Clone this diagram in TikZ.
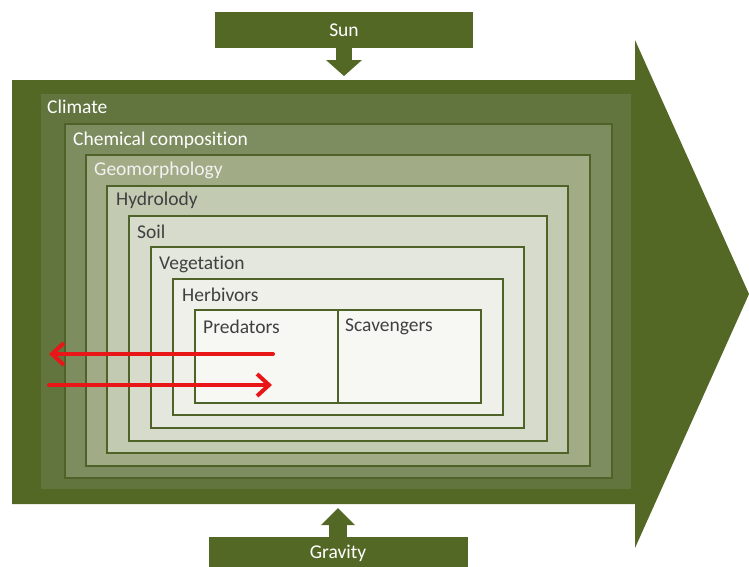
\documentclass[tikz,border=0pt]{standalone}
\usepackage{fontspec}
\setmainfont{Carlito}[Ligatures=NoCommon]
\usepackage{tikz}
\usetikzlibrary{arrows.meta}

\definecolor{flowgreen}{RGB}{84,104,38}
\definecolor{edgegreen}{RGB}{79,98,40}
\definecolor{climatefill}{RGB}{98,117,62}
\definecolor{chemfill}{RGB}{125,141,95}
\definecolor{geofill}{RGB}{161,172,135}
\definecolor{hydrofill}{RGB}{194,202,178}
\definecolor{soilfill}{RGB}{214,219,203}
\definecolor{vegfill}{RGB}{228,231,222}
\definecolor{herbfill}{RGB}{238,240,233}
\definecolor{predfill}{RGB}{247,248,244}
\definecolor{labelgray}{RGB}{64,64,64}
\definecolor{flowred}{RGB}{232,22,22}

\begin{document}
\begin{tikzpicture}[x=1pt, y=-1pt,
    every node/.style = {font=\fontsize{19.5}{22}\selectfont},
    layer/.style = {draw=edgegreen, line width=1.5pt, anchor=north west, inner sep=0, outer sep=0},
    tag/.style = {anchor=west, inner sep=0, text=labelgray},
    lighttag/.style = {tag, text=white},
    source/.style = {fill=flowgreen, anchor=north west, inner sep=0, outer sep=0, text=white},
    flow/.style = {draw=flowred, line width=4pt, line cap=round, -{Straight Barb[length=12pt,width=22pt]}}]
    \useasboundingbox (0,0) rectangle (749,566);

    % big arrow
    \fill[flowgreen] (12,80) -- (635,80) -- (635,40) -- (749,294) -- (635,548) -- (635,504) -- (12,504) -- cycle;

    % nested layers
    \node[layer, draw=none, fill=climatefill, minimum width=590, minimum height=395] (climate) at (41,94) {};
    \node[layer, fill=chemfill, minimum width=547, minimum height=354] (chem) at (65,124) {};
    \node[layer, fill=geofill, minimum width=504, minimum height=311] (geo) at (86,155) {};
    \node[layer, fill=hydrofill, minimum width=461, minimum height=267] (hydro) at (107,186) {};
    \node[layer, fill=soilfill, minimum width=418, minimum height=225] (soil) at (129,216) {};
    \node[layer, fill=vegfill, minimum width=373, minimum height=181] (veg) at (151,247) {};
    \node[layer, fill=herbfill, minimum width=330, minimum height=136] (herb) at (173,279) {};
    \node[layer, fill=predfill, minimum width=143, minimum height=93] (pred) at (195,310) {};
    \node[layer, fill=predfill, minimum width=143, minimum height=93] (scav) at (338,310) {};

    \node[lighttag] (climatetext) at (47,107) {Climate};
    \node[lighttag] (chemtext) at (73,140) {Chemical composition};
    \node[lighttag, text=white!95!black] (geotext) at (94,170) {Geomorphology};
    \node[tag] (hydrotext) at (116,200) {Hydrolody};
    \node[tag] (soiltext) at (137,232) {Soil};
    \node[tag] (vegtext) at (159,264) {Vegetation};
    \node[tag] (herbtext) at (182,295) {Herbivors};
    \node[tag] (predtext) at (203,327) {Predators};
    \node[tag] (scavtext) at (345,327) {Scavengers};

    % sun and gravity
    \node[source, minimum width=258, minimum height=36] (sun) at (215,12) {};
    \node[source, minimum width=259, minimum height=40] (gravity) at (209,537) {};
    \coordinate (sunend) at (344,76);
    \coordinate (gravend) at (338,508);

    \draw[flowgreen, line width=16pt] (sun.south -| sunend) -- ++(0,13);
    \fill[flowgreen] (326,60) -- (362,60) -- (sunend) -- cycle;
    \draw[flowgreen, line width=18pt] (gravity.north -| gravend) -- ++(0,-13);
    \fill[flowgreen] (321,525) -- (355,525) -- (gravend) -- cycle;

    \node[text=white] (suntext) at (sun.center) {Sun};
    \node[text=white] (gravitytext) at (338,553) {Gravity};

    % red arrows
    \coordinate (outstart) at (273,354);
    \coordinate (outend) at (49,354);
    \coordinate (instart) at (49,385);
    \coordinate (inend) at (272,385);
    \draw[flow] (outstart) -- (outend);
    \draw[flow] (instart) -- (inend);
\end{tikzpicture}
\end{document}
